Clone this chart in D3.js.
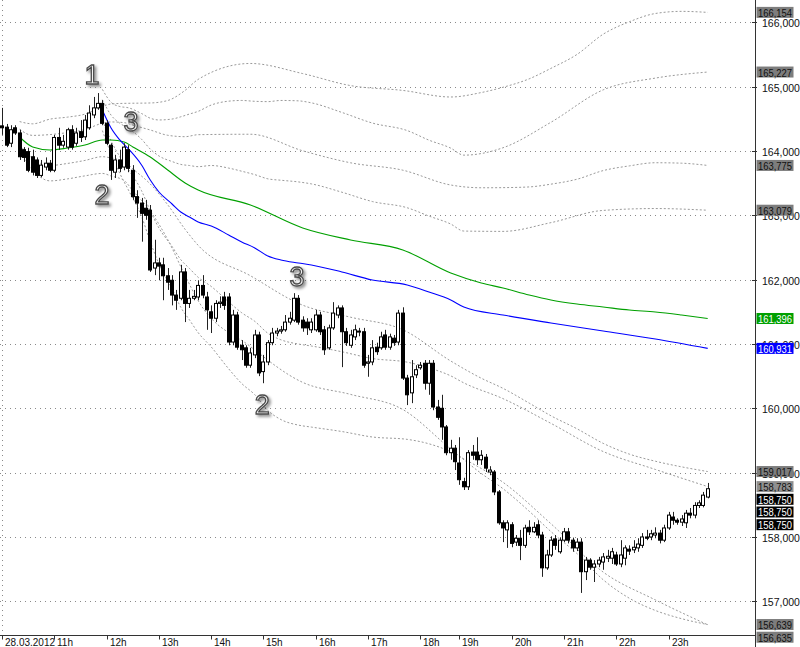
<!DOCTYPE html>
<html><head><meta charset="utf-8">
<script src="https://cdn.jsdelivr.net/npm/d3@7"></script>
<style>html,body{margin:0;padding:0;background:#fff;overflow:hidden}
text{font-family:"Liberation Sans",Arial,sans-serif}</style></head>
<body><svg id="c" width="800" height="647"></svg>
<script>
// ---------- DATA ----------
const openP = [164.39,164.37,164.12,164.36,164.28,164.02,163.99,163.91,163.86,163.62,163.75,163.81,163.70,164.21,164.09,164.06,164.33,164.12,164.30,164.22,164.36,164.56,164.67,164.74,164.43,164.09,163.67,163.86,163.75,164.02,163.70,163.29,163.19,163.11,163.08,162.18,162.26,162.23,162.06,161.99,161.76,161.71,162.12,161.63,161.71,161.73,161.91,161.73,161.50,161.40,161.63,161.73,161.73,161.03,161.45,160.98,160.94,160.67,160.83,161.14,160.57,160.72,161.02,161.17,161.20,161.22,161.34,161.37,161.71,161.37,161.34,161.22,161.22,161.45,161.22,160.94,161.25,161.45,161.56,161.19,160.98,161.11,161.19,161.19,160.70,160.72,160.95,160.94,161.14,160.95,161.09,161.03,161.48,160.47,160.24,160.52,160.63,160.70,160.39,160.70,160.02,160.00,159.71,159.31,159.38,159.15,158.86,158.78,159.32,159.32,159.20,159.24,159.01,159.01,158.70,158.22,158.11,158.19,157.92,157.98,157.87,158.15,158.08,158.19,158.03,157.52,157.72,157.97,157.77,157.95,158.08,157.95,157.83,157.92,157.46,157.64,157.53,157.58,157.61,157.67,157.67,157.72,157.58,157.67,157.81,157.80,157.83,157.87,158.00,158.00,158.03,158.06,157.95,158.14,158.31,158.26,158.23,158.22,158.37,158.34,158.49,158.49,158.62];
const highP = [164.67,164.42,164.40,164.40,164.33,164.06,164.05,164.02,163.90,163.86,163.90,163.86,164.25,164.36,164.25,164.36,164.40,164.36,164.48,164.56,164.71,164.84,164.90,164.79,164.48,164.12,163.94,164.02,164.12,164.09,163.78,163.39,163.27,163.24,163.16,162.62,162.34,162.34,162.18,162.07,161.84,162.23,162.18,161.84,161.84,161.99,162.07,161.81,161.60,161.68,161.74,161.81,161.79,161.53,161.50,161.06,160.98,160.94,161.22,161.19,160.83,161.06,161.25,161.25,161.28,161.45,161.50,161.79,161.76,161.43,161.40,161.40,161.53,161.50,161.28,161.30,161.65,161.60,161.60,161.25,161.22,161.30,161.25,161.25,160.83,161.06,161.02,161.19,161.22,161.16,161.14,161.53,161.57,160.52,160.75,160.67,160.72,160.75,160.75,160.75,160.13,160.21,159.74,159.51,159.43,159.55,158.92,159.35,159.43,159.55,159.35,159.29,159.10,159.04,158.73,158.26,158.26,158.23,158.03,158.11,158.19,158.26,158.23,158.26,158.08,157.80,158.01,158.03,157.99,158.14,158.14,157.99,157.98,157.98,157.69,157.67,157.64,157.69,157.75,157.80,157.83,157.77,157.95,157.87,157.87,157.95,157.98,158.06,158.11,158.11,158.15,158.11,158.19,158.39,158.39,158.29,158.34,158.42,158.45,158.54,158.57,158.70,158.84];
const lowP = [164.25,164.06,164.06,164.25,163.86,163.83,163.67,163.62,163.58,163.59,163.70,163.67,163.67,164.02,164.05,164.02,164.02,164.08,164.14,164.17,164.33,164.51,164.64,164.40,164.09,163.55,163.58,163.67,163.70,163.67,163.24,162.96,162.59,162.93,162.12,162.07,161.99,161.68,161.84,161.60,161.53,161.68,161.34,161.56,161.68,161.68,161.71,161.22,161.17,161.34,161.56,161.53,160.98,160.98,160.91,160.75,160.63,160.63,160.78,160.50,160.39,160.67,160.98,161.12,161.16,161.19,161.30,161.34,161.30,161.19,161.14,161.17,161.19,161.14,160.83,160.91,161.22,161.40,160.64,160.97,160.94,161.06,161.12,160.63,160.49,160.67,160.83,160.91,160.91,160.91,160.97,160.98,160.44,160.05,160.08,160.47,160.60,160.29,160.21,159.97,159.82,159.51,159.27,159.20,159.04,158.81,158.73,158.73,159.20,159.12,159.12,159.01,158.96,158.65,158.19,157.92,157.83,157.84,157.86,157.64,157.83,158.03,158.06,157.98,157.38,157.49,157.69,157.80,157.74,157.92,157.90,157.77,157.78,157.13,157.33,157.49,157.30,157.53,157.49,157.61,157.58,157.55,157.53,157.56,157.72,157.75,157.77,157.83,157.95,157.95,157.98,157.90,157.92,158.11,158.19,158.19,158.17,158.14,158.29,158.29,158.45,158.46,158.60];
const closeP = [164.36,164.09,164.33,164.28,163.91,163.90,163.70,163.67,163.62,163.78,163.81,163.70,164.21,164.09,164.15,164.33,164.06,164.28,164.21,164.48,164.59,164.67,164.74,164.43,164.12,163.70,163.86,163.73,164.06,163.73,163.29,163.19,163.03,163.00,162.15,162.26,162.21,162.06,161.96,161.76,161.68,162.12,161.63,161.71,161.74,161.91,161.76,161.53,161.40,161.63,161.65,161.60,161.03,161.45,160.95,160.91,160.67,160.86,161.14,160.55,160.72,161.02,161.17,161.20,161.22,161.34,161.40,161.71,161.34,161.25,161.25,161.34,161.45,161.19,160.91,161.25,161.48,161.56,161.19,161.02,161.14,161.22,161.20,160.67,160.72,160.94,160.88,161.11,160.95,161.11,161.02,161.48,160.47,160.21,160.49,160.60,160.67,160.39,160.70,160.02,159.86,159.71,159.31,159.38,159.17,158.89,158.78,159.31,159.27,159.20,159.27,159.07,159.04,158.70,158.22,158.14,158.22,157.90,157.98,157.87,158.14,158.08,158.15,158.03,157.52,157.72,157.95,157.87,157.95,158.08,157.95,157.83,157.92,157.46,157.64,157.53,157.58,157.64,157.69,157.70,157.77,157.58,157.72,157.83,157.78,157.84,157.89,158.00,157.98,158.05,158.06,157.95,158.14,158.34,158.26,158.23,158.28,158.37,158.34,158.49,158.53,158.65,158.75];

const xTickIndex  = [0,12,24,36,48,60,72,84,96,105,117,129,141,153];
const xTickLabels = ["28.03.2012","11h","12h","13h","14h","15h","16h","17h","18h","19h","20h","21h","22h","23h"];
const yTickValues = [157,158,159,160,161,162,163,164,165,166];

// green moving average and its deviation (bands drawn at ±2 and ±4 deviations)
const greenIdx   = [4,7,11,15,19,23,25,28,30,34,38,42,45,57,69,80,92,103,110,115,121,126,132,138,144,150,156,162];
const greenMA    = [164.217,164.062,164.015,164.046,164.093,164.171,164.171,164.140,164.062,163.906,163.704,163.502,163.393,163.160,162.803,162.616,162.461,162.103,161.948,161.870,161.761,161.684,161.621,161.575,161.528,161.497,161.450,161.396];
const greenSigma = [0.06,0.09,0.12,0.12,0.12,0.13,0.14,0.15,0.17,0.21,0.27,0.36,0.43,0.55,0.60,0.60,0.62,0.684,0.74,0.78,0.84,0.90,0.97,1.06,1.12,1.16,1.18,1.1895];
// blue moving average and its deviation
const blueIdx   = [23,25,27,29,32,34,36,39,41,43,45,48,52,55,58,61,64,68,71,78,85,93,98,103,106,115,126,138,150,162];
const blueMA    = [164.637,164.357,164.171,164.031,163.782,163.549,163.362,163.176,163.051,162.974,162.896,162.834,162.694,162.585,162.492,162.367,162.305,162.259,162.228,162.119,161.994,161.917,161.808,161.684,161.575,161.450,161.326,161.202,161.077,160.931];
const blueSigma = [0.08,0.10,0.13,0.16,0.20,0.24,0.28,0.33,0.37,0.40,0.43,0.47,0.52,0.55,0.57,0.60,0.62,0.63,0.63,0.62,0.61,0.60,0.59,0.59,0.59,0.65,0.78,0.937,1.014,1.074];
const bandMultipliers = [4,2,-2,-4];

// price labels on the right axis
const labelValues = [166.154,165.227,163.775,163.079,161.396,160.931,159.017,158.783,158.750,158.750,158.750,156.639,156.635];
const labelKinds  = ["band","band","band","band","green","blue","band","band2","last","last","last","band","band"];

// wave-count annotations
const annotText  = ["1","3","2","3","2"];
const annotIdx   = [20.6,29.6,22.9,67.7,59.7];
const annotPrice = [165.18,164.45,163.32,162.04,160.05];

// ---------- CHART ----------
const W=800,H=647, plotRight=755, axisY=635.5;
const svg=d3.select("#c");
const x=d3.scaleLinear().domain([0,162]).range([2.2,707.7]);
const y=d3.scaleLinear().domain([166,157]).range([22.3,601.3]);
const fmt=v=>d3.format(",.3f")(v).replace(".",",");
const fmtTick=v=>d3.format(".0f")(v)+",000";

const defs=svg.append("defs");
const clip=defs.append("clipPath").attr("id","pc");
clip.append("rect").attr("x",0).attr("y",0).attr("width",plotRight).attr("height",axisY);
const f=defs.append("filter").attr("id","sh").attr("x","-50%").attr("y","-50%").attr("width","200%").attr("height","200%");
f.append("feDropShadow").attr("dx",2).attr("dy",2).attr("stdDeviation",1.4).attr("flood-color","#000").attr("flood-opacity",0.45);

// grid
const g=svg.append("g");
g.selectAll("line.h").data(yTickValues).join("line")
 .attr("x1",0).attr("x2",plotRight-3).attr("y1",d=>Math.round(y(d))+0.5).attr("y2",d=>Math.round(y(d))+0.5)
 .attr("stroke","#8a8a8a").attr("stroke-dasharray","1,4");
g.append("line").attr("x1",2.5).attr("x2",2.5).attr("y1",0).attr("y2",axisY)
 .attr("stroke","#8a8a8a").attr("stroke-dasharray","1,4");

const plot=svg.append("g").attr("clip-path","url(#pc)");

// bands
function bandLine(idx,ma,sig,m){
  return d3.line().curve(d3.curveMonotoneX).x((d,i)=>x(idx[i])).y((d,i)=>y(ma[i]+m*sig[i]))(idx);
}
bandMultipliers.forEach(m=>{
  plot.append("path").attr("d",bandLine(greenIdx,greenMA,greenSigma,m))
   .attr("fill","none").attr("stroke","#9a9a9a").attr("stroke-width",1).attr("stroke-dasharray","2,2");
  plot.append("path").attr("d",bandLine(blueIdx,blueMA,blueSigma,m))
   .attr("fill","none").attr("stroke","#9a9a9a").attr("stroke-width",1).attr("stroke-dasharray","2,2");
});
// moving averages
plot.append("path").attr("d",d3.line().curve(d3.curveMonotoneX).x((d,i)=>x(greenIdx[i])).y(d=>y(d))(greenMA))
 .attr("fill","none").attr("stroke","#00a000").attr("stroke-width",1.1);
plot.append("path").attr("d",d3.line().curve(d3.curveMonotoneX).x((d,i)=>x(blueIdx[i])).y(d=>y(d))(blueMA))
 .attr("fill","none").attr("stroke","#0000ff").attr("stroke-width",1.1);

// candles
const idxs=d3.range(openP.length);
const cg=plot.append("g");
cg.selectAll("line").data(idxs).join("line")
 .attr("x1",i=>Math.round(x(i))+0.5).attr("x2",i=>Math.round(x(i))+0.5)
 .attr("y1",i=>y(highP[i])).attr("y2",i=>y(lowP[i]))
 .attr("stroke","#222").attr("stroke-width",1);
cg.selectAll("rect").data(idxs).join("rect")
 .attr("x",i=>Math.round(x(i))-1.5).attr("width",3)
 .attr("y",i=>y(Math.max(openP[i],closeP[i])))
 .attr("height",i=>Math.max(1,Math.abs(y(openP[i])-y(closeP[i]))))
 .attr("fill",i=>closeP[i]>=openP[i]?"#fff":"#000")
 .attr("stroke","#000").attr("stroke-width",1);

// annotations
svg.selectAll("text.ann").data(annotText).join("text").attr("class","ann")
 .attr("x",(d,i)=>x(annotIdx[i])).attr("y",(d,i)=>y(annotPrice[i]))
 .attr("text-anchor","middle").attr("dominant-baseline","central")
 .attr("font-size",27).attr("fill","#f2f2f2").attr("stroke","#4a4a4a").attr("stroke-width",1.3)
 .attr("filter","url(#sh)").text(d=>d);

// axes lines
svg.append("line").attr("x1",0).attr("x2",plotRight).attr("y1",axisY).attr("y2",axisY).attr("stroke","#333");
svg.append("line").attr("x1",plotRight+0.5).attr("x2",plotRight+0.5).attr("y1",0).attr("y2",H).attr("stroke","#333");

// x ticks
const xa=svg.append("g");
xTickIndex.forEach((ti,k)=>{
  const px=Math.round(x(ti))+0.5;
  xa.append("line").attr("x1",px).attr("x2",px).attr("y1",axisY).attr("y2",axisY+4).attr("stroke","#333");
  xa.append("text").attr("x",px+2.5).attr("y",645.5).attr("font-size",10).attr("fill","#111").text(xTickLabels[k]);
});
// y ticks
const ya=svg.append("g");
yTickValues.forEach(v=>{
  const py=Math.round(y(v))+0.5;
  ya.append("line").attr("x1",plotRight-3).attr("x2",plotRight+2).attr("y1",py).attr("y2",py).attr("stroke","#333");
  ya.append("text").attr("x",762).attr("y",py+0.5).attr("dominant-baseline","central").attr("font-size",10.5).attr("fill","#111").text(fmtTick(v));
});

// price labels with stacking
const colors={band:["#7d7d7d","#111"],band2:["#8f8f8f","#111"],green:["#00a000","#fff"],blue:["#0000ff","#fff"],last:["#000","#fff"]};
let prevBottom=-100;
const boxH=11;
labelValues.forEach((v,k)=>{
  let cy=y(v);
  if(cy-boxH/2<prevBottom+1.7) cy=prevBottom+1.7+boxH/2;
  prevBottom=cy+boxH/2;
  const c=colors[labelKinds[k]];
  svg.append("rect").attr("x",756.5).attr("y",cy-boxH/2).attr("width",37).attr("height",boxH).attr("fill",c[0]);
  svg.append("text").attr("x",758).attr("y",cy+0.5).attr("dominant-baseline","central")
   .attr("font-size",10.5).attr("textLength",34).attr("lengthAdjust","spacingAndGlyphs").attr("fill",c[1]).text(fmt(v));
});
</script></body></html>
